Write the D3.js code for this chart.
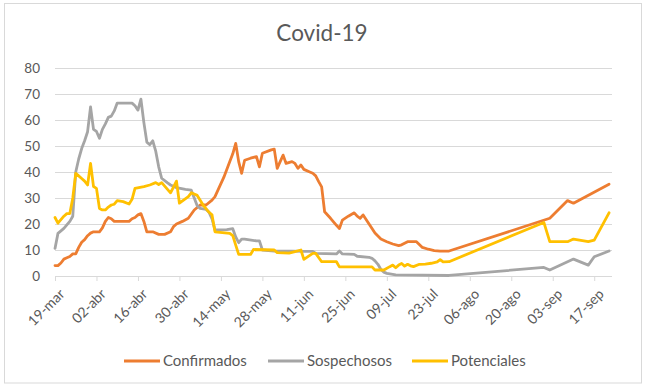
<!DOCTYPE html>
<html>
<head>
<meta charset="utf-8">
<script src="https://cdn.jsdelivr.net/npm/d3@7"></script>
<style>
  html, body { margin: 0; padding: 0; background: #ffffff; }
  svg { display: block; font-family: Lato, Carlito, Calibri, "Open Sans", sans-serif; }
</style>
</head>
<body>
<svg id="chart" width="646" height="389"></svg>
<script>
// ---------------- DATA ----------------
const chartTitle = "Covid-19";
const seriesNames = ["Confirmados", "Sospechosos", "Potenciales"];
const seriesColors = ["#ED7D31", "#A5A5A5", "#FFC000"];

const xTickLabels = ["19-mar", "02-abr", "16-abr", "30-abr", "14-may", "28-may", "11-jun",
                     "25-jun", "09-jul", "23-jul", "06-ago", "20-ago", "03-sep", "17-sep"];
const yTicks = [0, 10, 20, 30, 40, 50, 60, 70, 80];

const confirmadosFechas = ["03-19","03-20","03-21","03-22","03-23","03-24","03-25","03-26","03-27","03-28","03-29","03-30","03-31",
  "04-01","04-03","04-04","04-05","04-06","04-07","04-08","04-13","04-14","04-15","04-16","04-17","04-18","04-19","04-21","04-23","04-25","04-27","04-28","04-29",
  "05-01","05-03","05-05","05-07","05-09","05-11","05-12","05-13","05-15","05-17","05-18","05-19","05-20","05-21","05-22","05-24","05-26","05-27","05-28","05-31",
  "06-01","06-02","06-03","06-04","06-05","06-07","06-08","06-09","06-10","06-11","06-13","06-14","06-15","06-16","06-17","06-18","06-20","06-22","06-23","06-24","06-26","06-28","06-29","06-30",
  "07-01","07-03","07-05","07-07","07-09","07-11","07-13","07-14","07-16","07-19","07-21","07-23","07-25","07-27","07-30",
  "09-02","09-08","09-10","09-22"];
const confirmadosValores = [4,4,5,6.5,7,7.5,8.5,8.5,11,13,14,15.5,16.5,
  17,17,18.5,21,22.5,22,21,21,22,22.5,23.5,24,21,17,17,16,16,17,19,20,
  21,22.2,25.4,27.3,27.3,29.2,30.5,33,38,44,47,51,44,39.5,44.5,45.3,45.9,42,47.2,48.5,
  48.8,41.4,44,46.5,43.3,44,43.3,41.4,42.7,41,40,39.5,38.5,36.3,34.3,24.7,22.2,19.5,18.3,21.5,23,24.3,23,22.2,
  23.5,20,16.5,14.2,13.2,12.3,11.7,12,13.2,13.2,11,10.3,9.8,9.6,9.6,
  22.2,29,28,35.3];

const sospechososFechas = ["03-19","03-20","03-22","03-24","03-25","03-26","03-27","03-28","03-29","03-30","03-31",
  "04-01","04-02","04-03","04-04","04-05","04-06","04-07","04-08","04-09","04-13","04-14","04-15","04-16","04-17","04-18","04-19","04-20","04-21","04-22","04-23","04-24","04-26","04-27","04-29",
  "05-02","05-04","05-05","05-06","05-07","05-09","05-10","05-11","05-12","05-16","05-18","05-19","05-20","05-21","05-22","05-26","05-27","05-28",
  "06-01","06-07","06-11","06-14","06-15","06-22","06-23","06-24","06-28","06-29",
  "07-03","07-04","07-05","07-06","07-07","07-08","07-09","07-12","07-30",
  "08-31","09-02","09-10","09-15","09-17","09-22"];
const sospechososValores = [10.6,16.4,18.3,21,23,40,45,49,52,55.5,65,
  56.4,55.6,53,56.4,58.5,61,61.5,63.5,66.5,66.5,66.5,65.5,63.8,68,59,51.5,50.5,52,48,42,37.6,35.8,35,34,
  33.3,33,30,27,26,25.6,24.5,22,17.7,17.8,18.2,15,12.8,14.2,14.2,13.5,13.5,10,
  9.6,9.6,9.5,9.5,8.7,8.5,9.6,8.5,8.3,7.6,
  7.2,6.8,5.8,4.5,2.5,1.5,1,0.4,0.2,
  3.3,2.3,6.5,4.2,7.4,9.6];

const potencialesFechas = ["03-19","03-20","03-22","03-23","03-24","03-25","03-26","03-27","03-28","03-29","03-30","03-31",
  "04-01","04-02","04-03","04-04","04-05","04-06","04-07","04-08","04-09","04-11","04-13","04-14","04-15","04-18","04-20","04-22","04-23","04-24","04-27","04-29","04-30",
  "05-03","05-04","05-06","05-08","05-10","05-11","05-12","05-17","05-18","05-19","05-20","05-24","05-25",
  "06-01","06-02","06-06","06-08","06-10","06-11","06-14","06-15","06-17","06-22","06-23",
  "07-04","07-05","07-08","07-10","07-11","07-12","07-13","07-14","07-15","07-16","07-17","07-18","07-20","07-22","07-24","07-26","07-27","07-28","07-30",
  "08-31","09-02","09-08","09-10","09-15","09-17","09-22"];
const potencialesValores = [22.5,20.3,23,24,24,30,39.5,38.5,37.5,36.5,35,43.3,
  34.4,33.7,26,25.4,25.4,26.5,27.3,27.6,29,28.6,27.7,29.5,33.7,34.4,35,35.9,35.2,35.9,32,36.5,28,
  30.5,32,31,27.3,24.5,23.5,17,16.4,15.5,11.9,8.3,8.3,10.2,
  10,9,8.8,9.4,10,6.4,8.7,8.7,5.5,5.5,3.5,
  3.5,2.3,2.3,3.6,4.2,3.2,4.2,4.8,3.8,4.5,3.9,3.6,4.5,4.6,4.9,5.4,6.3,5.4,5.5,
  20.6,13.2,13.2,14.2,13.2,13.8,24.3];

// ---------------- CHART ----------------
const parse = d3.timeParse("%Y-%m-%d");
const toDate = s => parse("2020-" + s);

const series = [
  { name: seriesNames[0], color: seriesColors[0], pts: confirmadosFechas.map((f, i) => ({ date: toDate(f), value: confirmadosValores[i] })) },
  { name: seriesNames[1], color: seriesColors[1], pts: sospechososFechas.map((f, i) => ({ date: toDate(f), value: sospechososValores[i] })) },
  { name: seriesNames[2], color: seriesColors[2], pts: potencialesFechas.map((f, i) => ({ date: toDate(f), value: potencialesValores[i] })) }
];

const svg = d3.select("#chart");
const textColor = "#595959";
const gridColor = "#D9D9D9";

// outer border
svg.append("rect")
  .attr("x", 4.5).attr("y", 3.5).attr("width", 637).attr("height", 379.5)
  .attr("fill", "#fff").attr("stroke", gridColor).attr("stroke-width", 1);

const plotLeft = 55, plotRight = 612, plotTop = 68, plotBottom = 276;
const x = d3.scaleTime()
  .domain([toDate("03-19"), toDate("09-23")])
  .range([plotLeft, plotRight]);
const y = d3.scaleLinear().domain([0, 80]).range([plotBottom, plotTop]);

// title
svg.append("text")
  .attr("x", 322).attr("y", 41)
  .attr("text-anchor", "middle")
  .attr("fill", textColor)
  .style("font-size", "22.5px")
  .text(chartTitle);

// y gridlines + labels via axis
const yAxis = d3.axisLeft(y).tickValues(yTicks).tickSize(-(plotRight - plotLeft)).tickPadding(15).tickFormat(d3.format("d"));
const gy = svg.append("g").attr("transform", `translate(${plotLeft},0)`).call(yAxis);
gy.select(".domain").remove();
gy.selectAll(".tick line").attr("stroke", gridColor).attr("stroke-width", 1);
gy.selectAll(".tick text").attr("fill", textColor).style("font-size", "13.5px").style("font-family", "Lato, Carlito, sans-serif");

// x axis
const tickDates = d3.range(xTickLabels.length).map(i => d3.timeDay.offset(toDate("03-19"), 14 * i));
const xAxis = d3.axisBottom(x).tickValues(tickDates).tickSize(5).tickFormat((d, i) => xTickLabels[i]);
const gx = svg.append("g").attr("transform", `translate(0,${plotBottom})`).call(xAxis);
gx.select(".domain").attr("stroke", gridColor).attr("d", `M${plotLeft},0.5H${plotRight}`);
gx.selectAll(".tick line").attr("stroke", gridColor);
gx.selectAll(".tick text")
  .attr("fill", textColor)
  .style("font-size", "14px")
  .style("font-family", "Lato, Carlito, sans-serif")
  .attr("text-anchor", "end")
  .attr("dy", "0")
  .attr("y", 0)
  .attr("transform", "translate(10,19) rotate(-45)");

// lines
const line = d3.line().x(d => x(d.date)).y(d => y(d.value));
svg.append("g").selectAll("path")
  .data(series)
  .join("path")
  .attr("d", d => line(d.pts))
  .attr("fill", "none")
  .attr("stroke", d => d.color)
  .attr("stroke-width", 2.8)
  .attr("stroke-linejoin", "round")
  .attr("stroke-linecap", "round");

// legend
const legendX = [124, 268, 412];
const lg = svg.append("g");
series.forEach((s, i) => {
  lg.append("line")
    .attr("x1", legendX[i]).attr("x2", legendX[i] + 36)
    .attr("y1", 361).attr("y2", 361)
    .attr("stroke", s.color).attr("stroke-width", 3);
  lg.append("text")
    .attr("x", legendX[i] + 39).attr("y", 366)
    .attr("fill", textColor)
    .style("font-size", "15px")
    .text(s.name);
});
</script>
</body>
</html>
